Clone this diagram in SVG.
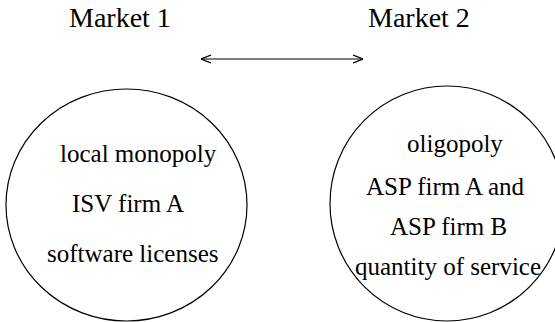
<svg xmlns="http://www.w3.org/2000/svg" width="555" height="322" viewBox="0 0 555 322">
<style>
.h{font-size:28px}
.t{font-size:25px}
.c{fill:none;stroke:#000;stroke-width:1.2}
.e{stroke:#000;stroke-width:1.2;fill:none}
</style>
<defs>
<marker id="ah" viewBox="0 0 10 10" refX="10" refY="5" markerWidth="10" markerHeight="10" markerUnits="userSpaceOnUse" orient="auto-start-reverse">
<path d="M0,1 L10,5 L0,9" fill="none" stroke="#000" stroke-width="1.2"/>
</marker>
</defs>
<g font-family="'Liberation Serif', Tinos, 'Times New Roman', Times, serif" fill="#000">
<g id="market1">
<text class="h" x="69" y="27">Market 1</text>
<ellipse class="c" cx="126.5" cy="205" rx="120.5" ry="116"/>
<text class="t" x="60" y="162">local monopoly</text>
<text class="t" x="72" y="212">ISV firm A</text>
<text class="t" x="47" y="262">software licenses</text>
</g>
<g id="market2">
<text class="h" x="368" y="27">Market 2</text>
<ellipse class="c" cx="447" cy="203.5" rx="117" ry="117.5"/>
<text class="t" x="407" y="152">oligopoly</text>
<text class="t" x="366" y="195">ASP firm A and</text>
<text class="t" x="390" y="235">ASP firm B</text>
<text class="t" x="355" y="275">quantity of service</text>
</g>
</g>
<g id="connectors">
<line class="e" x1="201" y1="59" x2="363" y2="59" marker-start="url(#ah)" marker-end="url(#ah)"/>
</g>
</svg>
